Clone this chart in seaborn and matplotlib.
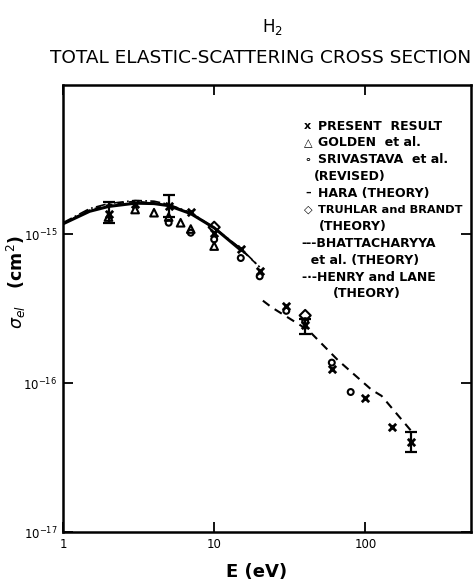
import numpy as np
import pandas as pd
import matplotlib
matplotlib.use("Agg")
import matplotlib.pyplot as plt
import seaborn as sns

# ---------------- data ----------------
# Present result (crosses)
present_E = [2, 3, 5, 7, 10, 15, 20, 30, 40, 60, 100, 150, 200]
present_y = [1.36e-15, 1.60e-15, 1.54e-15, 1.40e-15, 1.02e-15, 0.79e-15, 0.565e-15,
             3.3e-16, 2.44e-16, 1.25e-16, 0.79e-16, 0.51e-16, 0.40e-16]
# error bars on selected present-result points
err_E = [2, 5, 40, 200]
err_y = [1.36e-15, 1.54e-15, 2.44e-16, 0.40e-16]
err_lo = [1.18e-15, 1.30e-15, 2.14e-16, 0.343e-16]
err_hi = [1.64e-15, 1.84e-15, 2.70e-16, 0.47e-16]

# Golden et al. (triangles)
golden_E = [2, 3, 4, 5, 6, 7, 10]
golden_y = [1.30e-15, 1.46e-15, 1.39e-15, 1.30e-15, 1.19e-15, 1.08e-15, 0.83e-15]

# Srivastava et al. (revised) (circles)
sriv_E = [5, 7, 10, 15, 20, 30, 40, 60, 80]
sriv_y = [1.19e-15, 1.02e-15, 0.92e-15, 0.69e-15, 0.52e-15, 3.05e-16, 2.6e-16, 1.37e-16, 0.87e-16]

# Truhlar and Brandt (diamonds)
truhlar_E = [10, 40]
truhlar_y = [1.11e-15, 2.84e-16]

# Hara (theory) solid
hara_E = [1, 1.5, 2, 3, 4, 5, 7, 10, 15]
hara_y = [1.17e-15, 1.42e-15, 1.53e-15, 1.61e-15, 1.60e-15, 1.55e-15, 1.37e-15, 1.10e-15, 0.78e-15]

# Henry and Lane (theory) dash-dot
henry_E = [1, 1.5, 2, 3, 4, 5, 7, 10, 15, 20]
henry_y = [1.19e-15, 1.48e-15, 1.60e-15, 1.68e-15, 1.66e-15, 1.58e-15, 1.39e-15, 1.10e-15, 0.80e-15, 0.60e-15]

# Bhattacharyya et al. (theory) dashed, two segments
bhatt_lo_E = [1, 1.5, 2, 3, 5, 7, 10, 15, 20]
bhatt_lo_y = [1.18e-15, 1.45e-15, 1.57e-15, 1.66e-15, 1.57e-15, 1.38e-15, 1.09e-15, 0.79e-15, 0.60e-15]
bhatt_hi_E = [21, 24, 42, 66, 110, 128, 200]
bhatt_hi_y = [3.57e-16, 3.22e-16, 2.26e-16, 1.42e-16, 0.90e-16, 0.82e-16, 0.48e-16]

x_ticks = [1, 10, 100]
x_ticklabels = ["1", "10", "100"]
y_ticks = [1e-17, 1e-16, 1e-15]
y_ticklabels = [r"$10^{-17}$", r"$10^{-16}$", r"$10^{-15}$"]

legend_rows = [
    ("x", "PRESENT  RESULT"),
    ("\u25B3", "GOLDEN  et al."),
    ("\u2218", "SRIVASTAVA  et al."),
    (None, "(REVISED)"),
    ("\u2013", "HARA (THEORY)"),
    ("\u25C7", "TRUHLAR and BRANDT"),
    (None, "(THEORY)"),
    ("", "---BHATTACHARYYA"),
    ("", "  et al. (THEORY)"),
    ("", "-\u00b7-HENRY and LANE"),
    (None, "(THEORY)"),
]

# ---------------- figure ----------------
sns.set_style("ticks")
plt.rcParams["font.family"] = ["DejaVu Sans"]
plt.rcParams["text.color"] = "black"
plt.rcParams["axes.labelcolor"] = "black"
plt.rcParams["xtick.color"] = "black"
plt.rcParams["ytick.color"] = "black"

fig = plt.figure(figsize=(4.77, 5.81), dpi=100)
ax = fig.add_axes([63 / 477, 1 - 532 / 581, 408 / 477, 447 / 581])

black = "black"

sns.lineplot(x=hara_E, y=hara_y, ax=ax, color=black, lw=2.2, sort=False, estimator=None)
sns.lineplot(x=henry_E, y=henry_y, ax=ax, color=black, lw=1.2, sort=False, estimator=None,
             linestyle=(0, (6, 2, 1, 2)))
sns.lineplot(x=bhatt_lo_E, y=bhatt_lo_y, ax=ax, color=black, lw=1.2, sort=False, estimator=None,
             linestyle=(0, (4, 3)))
sns.lineplot(x=bhatt_hi_E, y=bhatt_hi_y, ax=ax, color=black, lw=1.5, sort=False, estimator=None,
             linestyle=(0, (4, 3)))

ax.errorbar(err_E, err_y,
            yerr=[np.array(err_y) - np.array(err_lo), np.array(err_hi) - np.array(err_y)],
            fmt="none", ecolor=black, elinewidth=1.6, capsize=4, capthick=1.6)

sns.scatterplot(x=present_E, y=present_y, ax=ax, marker="x", color=black, s=28, linewidth=2)
sns.scatterplot(x=golden_E, y=golden_y, ax=ax, marker="^", facecolors="none",
                edgecolor=black, s=30, linewidth=1.5)
sns.scatterplot(x=sriv_E, y=sriv_y, ax=ax, marker="o", facecolors="none",
                edgecolor=black, s=18, linewidth=1.5)
sns.scatterplot(x=truhlar_E, y=truhlar_y, ax=ax, marker="D", facecolors="none",
                edgecolor=black, s=32, linewidth=1.5)

ax.set_xscale("log")
ax.set_yscale("log")
ax.set_xlim(1, 500)
ax.set_ylim(1e-17, 1e-14)

ax.set_xticks(x_ticks)
ax.set_xticklabels(x_ticklabels)
ax.set_yticks(y_ticks)
ax.set_yticklabels(y_ticklabels)
ax.minorticks_off()
ax.tick_params(which="major", direction="in", length=7, width=1.3,
               top=True, right=True, labelsize=8.5, pad=4, colors=black)

for sp in ax.spines.values():
    sp.set_linewidth(1.8)
    sp.set_color(black)

ax.set_xlabel("E (eV)", fontsize=13, fontweight="bold")
ax.xaxis.set_label_coords(0.475, -0.07)
ax.set_ylabel(r"$\sigma_{el}$   (cm$^2$)", fontsize=12.5, fontweight="bold")
ax.yaxis.set_label_coords(-0.085, 0.56)

# titles
fig.text(272 / 477, 1 - 27 / 581, r"H$_2$", ha="center", va="center", fontsize=12)
fig.text(261 / 477, 1 - 58 / 581, "TOTAL ELASTIC-SCATTERING CROSS SECTION",
         ha="center", va="center", fontsize=13.3)

# legend drawn as text
y0 = (532 - 126) / 447
dy = 16.8 / 447
for i, (sym, label) in enumerate(legend_rows):
    yy = y0 - i * dy
    fs = 8.2 if i == 5 else 9
    if sym is None:
        cx = {3: 0.703, 6: 0.711, 10: 0.745}[i]
        ax.text(cx, yy, label, transform=ax.transAxes, ha="center", va="center",
                fontsize=fs, fontweight="bold")
    elif sym == "":
        ax.text(0.585, yy, label, transform=ax.transAxes, ha="left", va="center",
                fontsize=fs, fontweight="bold")
    else:
        ax.text(0.600, yy, sym, transform=ax.transAxes, ha="center", va="center",
                fontsize=8, fontweight="bold")
        ax.text(0.625, yy, label, transform=ax.transAxes, ha="left", va="center",
                fontsize=fs, fontweight="bold")

fig.savefig("out.png", dpi=100)
